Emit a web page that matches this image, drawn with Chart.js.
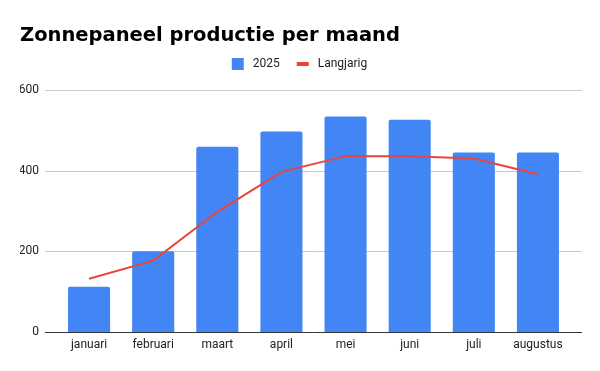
<!DOCTYPE html>
<html>
<head>
<meta charset="utf-8">
<script src="https://cdn.jsdelivr.net/npm/chart.js@4"></script>
<style>
  html, body { margin: 0; padding: 0; background: #fff; }
  #wrap { width: 600px; height: 371px; }
</style>
</head>
<body>
<div id="wrap"><canvas id="solarChart" width="600" height="371"></canvas></div>
<script>
// Chart data
const months = ['januari', 'februari', 'maart', 'april', 'mei', 'juni', 'juli', 'augustus'];
const production2025 = [112, 200, 459, 497, 534, 526, 445, 445];
const longTermAvg = [132, 177, 298, 397, 436, 436, 430, 391];
const yTicks = [0, 200, 400, 600];
const chartTitle = 'Zonnepaneel productie per maand';

const colors = {
    bar: '#4285f4',
    line: '#e8453c',
    grid: '#cccccc',
    axis: '#333333',
    text: '#222222'
};

// gridlines stick out a bit past the bars, like in Sheets
const gridPlugin = {
    id: 'sheetGrid',
    beforeDatasetsDraw(chart) {
        const ctx = chart.ctx;
        const area = chart.chartArea;
        const y = chart.scales.y;
        const left = area.left - 12;
        const right = area.right + 12;
        ctx.save();
        yTicks.forEach(v => {
            const py = Math.round(y.getPixelForValue(v)) + 0.5;
            ctx.beginPath();
            ctx.lineWidth = 1;
            ctx.strokeStyle = v === 0 ? colors.axis : colors.grid;
            ctx.moveTo(left, py);
            ctx.lineTo(right, py);
            ctx.stroke();
        });
        ctx.restore();
    }
};

// title + legend drawn by hand, Sheets style spacing
const headerPlugin = {
    id: 'sheetHeader',
    afterDraw(chart) {
        const ctx = chart.ctx;
        ctx.save();
        ctx.font = 'bold 19.5px "DejaVu Sans"';
        ctx.fillStyle = '#000';
        ctx.textBaseline = 'alphabetic';
        ctx.textAlign = 'left';
        ctx.fillText(chartTitle, 20, 41);

        // legend: bars first, then the line
        const items = chart.data.datasets.slice().reverse();
        const cy = 64;
        ctx.font = '12px Roboto';
        ctx.textBaseline = 'middle';
        const widths = items.map(ds => 12 + 9 + ctx.measureText(ds.label).width);
        const total = widths.reduce((a, b) => a + b, 0) + 17 * (items.length - 1);
        let x = 299.5 - total / 2;
        items.forEach((ds, i) => {
            if (ds.type === 'bar') {
                ctx.fillStyle = ds.backgroundColor;
                ctx.fillRect(x, cy - 6, 12, 12);
            } else {
                ctx.fillStyle = ds.borderColor;
                ctx.fillRect(x, cy - 2, 12, 4);
            }
            ctx.fillStyle = colors.text;
            ctx.fillText(ds.label, x + 21, cy);
            x += widths[i] + 17;
        });
        ctx.restore();
    }
};

const ctx = document.getElementById('solarChart').getContext('2d');
new Chart(ctx, {
    data: {
        labels: months,
        datasets: [
            {
                type: 'line',
                label: 'Langjarig',
                data: longTermAvg,
                borderColor: colors.line,
                backgroundColor: colors.line,
                borderWidth: 2,
                tension: 0,
                pointRadius: 0,
                order: 0
            },
            {
                type: 'bar',
                label: '2025',
                data: production2025,
                backgroundColor: colors.bar,
                borderRadius: { topLeft: 2, topRight: 2 },
                borderSkipped: 'bottom',
                categoryPercentage: 1,
                barPercentage: 0.656,
                order: 1
            }
        ]
    },
    options: {
        responsive: false,
        animation: false,
        layout: {
            padding: { left: 20, right: 30, top: 90, bottom: 0 }
        },
        plugins: {
            legend: { display: false },
            tooltip: { enabled: false }
        },
        scales: {
            x: {
                grid: { display: false, drawTicks: false },
                border: { display: false },
                ticks: {
                    color: colors.text,
                    font: { family: 'Roboto', size: 12 },
                    padding: 6,
                    maxRotation: 0
                },
                afterFit: function(scale) { scale.height = 39; }
            },
            y: {
                min: 0,
                max: 600,
                grid: { display: false, drawTicks: false },
                border: { display: false },
                afterBuildTicks: function(scale) {
                    scale.ticks = yTicks.map(v => ({ value: v }));
                },
                ticks: {
                    color: colors.text,
                    font: { family: 'Roboto', size: 12 },
                    padding: 18
                },
                afterFit: function(scale) { scale.width = 37; }
            }
        }
    },
    plugins: [gridPlugin, headerPlugin]
});
</script>
</body>
</html>
